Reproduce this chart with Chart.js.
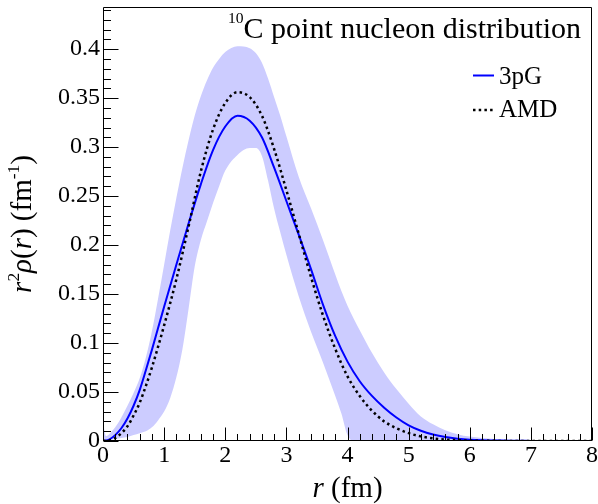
<!DOCTYPE html>
<html><head><meta charset="utf-8">
<script src="https://cdn.jsdelivr.net/npm/chart.js@4.4.1/dist/chart.umd.min.js"></script>
<style>html,body{margin:0;padding:0;background:#fff;}canvas{display:block;}</style>
</head><body>
<canvas id="c" width="598" height="504"></canvas>
<script>
// ---- data ----
const seriesNames = ['3pG', 'AMD'];
const titleSup = '10';
const titleText = 'C point nucleon distribution';

const rLine = [0,0.1,0.2,0.3,0.4,0.5,0.6,0.7,0.8,0.9,1.0,1.2,1.4,1.6,1.8,2.0,2.2,2.4,2.6,2.8,3.0,3.2,3.4,3.6,3.8,4.0,4.2,4.4,4.6,4.8,5.0,5.2,5.4,5.6,5.8,6.0,6.5,7.0,7.5,8.0];
const val3pG = [0,0.0015,0.006,0.013,0.023,0.036,0.052,0.072,0.093,0.115,0.137,0.180,0.222,0.262,0.297,0.321,0.332,0.327,0.310,0.279,0.245,0.211,0.176,0.139,0.107,0.081,0.061,0.046,0.034,0.024,0.016,0.0105,0.0066,0.0040,0.0024,0.0014,0.0004,0.0001,0,0];
const valAMD = [0,0.0006,0.003,0.008,0.015,0.026,0.039,0.056,0.075,0.096,0.118,0.165,0.219,0.275,0.318,0.345,0.356,0.351,0.332,0.298,0.256,0.212,0.168,0.128,0.094,0.066,0.046,0.031,0.020,0.013,0.008,0.0047,0.0027,0.0015,0.0008,0.0004,0.0001,0,0,0];

const bandR = [0,0.05,0.1,0.2,0.3,0.4,0.5,0.6,0.7,0.8,0.9,1.0,1.1,1.2,1.3,1.4,1.5,1.6,1.7,1.8,1.9,2.0,2.2,2.4,2.5,2.6,2.7,2.8,2.9,3.0,3.2,3.4,3.6,3.8,3.9,4.0,4.1,4.2,4.4,4.6,4.8,5.0,5.2,5.4,5.6,5.8,6.0,6.2,6.5,7.0,8.0];
const bandUpper = [0.019,0.005,0.007,0.014,0.024,0.036,0.049,0.064,0.085,0.112,0.145,0.180,0.215,0.248,0.279,0.307,0.332,0.352,0.368,0.381,0.390,0.397,0.403,0.401,0.396,0.386,0.370,0.351,0.332,0.311,0.270,0.238,0.205,0.170,0.153,0.138,0.125,0.113,0.090,0.070,0.053,0.038,0.025,0.017,0.011,0.007,0.0045,0.003,0.0015,0.0003,0];
const bandLower = [0,0.0005,0.001,0.002,0.003,0.004,0.006,0.008,0.010,0.014,0.021,0.030,0.044,0.065,0.094,0.135,0.178,0.205,0.224,0.243,0.260,0.276,0.292,0.299,0.299,0.291,0.266,0.237,0.213,0.190,0.148,0.112,0.080,0.046,0.028,0.006,0,0,0,0,0,0,0,0,0,0,0,0,0,0,0];

const xTicksMajor = 1, xTicksMinor = 0.2;
const yTicksMajor = 0.05, yTicksMinor = 0.01;

// ---- drawing ----
const FONT = '"Liberation Serif","Times New Roman",serif';
const fnt = (sz, it) => (it ? 'italic ' : '') + sz + 'px ' + FONT;
const pts = (xs, ys) => xs.map((x, i) => ({x: x, y: ys[i]}));

function richWidth(ctx, parts, size, supF) {
  let w = 0;
  for (const p of parts) { ctx.font = fnt(p.sup ? size * supF : size, p.it); w += ctx.measureText(p.t).width; }
  return w;
}
function drawRich(ctx, parts, x, y, size, supF, supRaise) {
  for (const p of parts) {
    const s = p.sup ? size * supF : size;
    ctx.font = fnt(s, p.it);
    ctx.fillText(p.t, x, p.sup ? y - size * supRaise : y);
    x += ctx.measureText(p.t).width;
  }
}

const deco = {
  id: 'deco',
  afterDraw(chart) {
    const {ctx, chartArea: a, scales: {x, y}} = chart;
    ctx.save();
    ctx.strokeStyle = '#000';
    ctx.fillStyle = '#000';
    ctx.lineWidth = 1;
    const L = Math.round(a.left) + 0.5, R = Math.round(a.right) - 0.5;
    const T = Math.round(a.top) + 0.5, B = Math.round(a.bottom) - 0.5;
    ctx.beginPath();
    ctx.moveTo(L, T); ctx.lineTo(R, T); ctx.lineTo(R, B); ctx.lineTo(L, B); ctx.closePath();
    ctx.stroke();
    // x ticks (inside)
    ctx.beginPath();
    const nx = Math.round((x.max - x.min) / xTicksMinor);
    for (let i = 0; i <= nx; i++) {
      const v = x.min + i * xTicksMinor;
      const px = Math.round(x.getPixelForValue(v)) + 0.5;
      const major = Math.abs(v / xTicksMajor - Math.round(v / xTicksMajor)) < 1e-6;
      const len = major ? 13 : 6.5;
      ctx.moveTo(px, B); ctx.lineTo(px, B - len);
    }
    // y ticks (inside)
    const ny = Math.floor((y.max - y.min) / yTicksMinor + 1e-6);
    for (let i = 0; i <= ny; i++) {
      const v = y.min + i * yTicksMinor;
      const py = Math.round(y.getPixelForValue(v)) + 0.5;
      const major = Math.abs(v / yTicksMajor - Math.round(v / yTicksMajor)) < 1e-6;
      const len = major ? 15 : 7.5;
      ctx.moveTo(L, py); ctx.lineTo(L + len, py);
    }
    ctx.stroke();

    // title
    ctx.textAlign = 'left';
    ctx.textBaseline = 'alphabetic';
    drawRich(ctx, [{t: titleSup, sup: true}, {t: titleText}], 228, 38, 30, 0.52, 0.5);

    // x-axis title
    const xt = [{t: 'r', it: true}, {t: ' (fm)'}];
    const xw = richWidth(ctx, xt, 29, 0.6);
    drawRich(ctx, xt, (a.left + a.right) / 2 - xw / 2, 497, 29, 0.6, 0.42);

    // y-axis title
    const yt = [{t: 'r', it: true}, {t: '2', sup: true}, {t: 'ρ', it: true}, {t: '('}, {t: 'r', it: true}, {t: ') (fm'}, {t: '-1', sup: true}, {t: ')'}];
    const yw = richWidth(ctx, yt, 29, 0.6);
    ctx.save();
    ctx.translate(31, (a.top + a.bottom) / 2 + yw / 2);
    ctx.rotate(-Math.PI / 2);
    drawRich(ctx, yt, 0, 0, 29, 0.6, 0.42);
    ctx.restore();

    // legend
    const ds = chart.data.datasets;
    const rows = [{ds: ds[2], y: 75.5, base: 84}, {ds: ds[3], y: 110, base: 117}];
    for (const row of rows) {
      ctx.save();
      ctx.strokeStyle = row.ds.borderColor;
      ctx.lineWidth = row.ds.borderWidth;
      ctx.setLineDash(row.ds.borderDash || []);
      ctx.beginPath(); ctx.moveTo(473, row.y); ctx.lineTo(494, row.y); ctx.stroke();
      ctx.restore();
      ctx.font = fnt(25, false);
      ctx.fillText(row.ds.label, 499, row.base);
    }
    ctx.restore();
  }
};

new Chart(document.getElementById('c'), {
  type: 'line',
  data: {
    datasets: [
      {label: 'band+', data: pts(bandR, bandUpper), borderWidth: 0, borderColor: 'rgba(0,0,0,0)', pointRadius: 0, fill: '+1', backgroundColor: 'rgb(204,204,255)', order: 3, cubicInterpolationMode: 'monotone'},
      {label: 'band-', data: pts(bandR, bandLower), borderWidth: 0, borderColor: 'rgba(0,0,0,0)', pointRadius: 0, fill: false, order: 3, cubicInterpolationMode: 'monotone'},
      {label: seriesNames[0], data: pts(rLine, val3pG), borderColor: '#0000ff', borderWidth: 2, pointRadius: 0, fill: false, order: 1, cubicInterpolationMode: 'monotone'},
      {label: seriesNames[1], data: pts(rLine, valAMD), borderColor: '#000000', borderWidth: 2.5, borderDash: [2.5, 3.2], pointRadius: 0, fill: false, order: 0, cubicInterpolationMode: 'monotone'}
    ]
  },
  options: {
    responsive: false,
    animation: false,
    devicePixelRatio: 1,
    layout: {padding: {top: 7, right: 6, left: 0, bottom: 0}},
    plugins: {legend: {display: false}, tooltip: {enabled: false}, filler: {drawTime: 'beforeDatasetsDraw'}},
    scales: {
      x: {
        type: 'linear', min: 0, max: 8,
        ticks: {stepSize: xTicksMajor, font: {family: FONT, size: 24}, color: '#000', padding: 0, maxRotation: 0, autoSkip: false, callback: v => String(v)},
        grid: {display: false, drawTicks: false}, border: {display: false},
        afterFit(s) { s.height = 63; s.paddingLeft = 0; s.paddingRight = 0; }
      },
      y: {
        type: 'linear', min: 0, max: 0.443,
        ticks: {stepSize: yTicksMajor, includeBounds: false, font: {family: FONT, size: 24}, color: '#000', padding: 3, callback: v => String(+v.toFixed(2))},
        grid: {display: false, drawTicks: false}, border: {display: false},
        afterFit(s) { s.width = 103; s.paddingTop = 0; s.paddingBottom = 0; }
      }
    }
  },
  plugins: [deco]
});
</script>
</body></html>
